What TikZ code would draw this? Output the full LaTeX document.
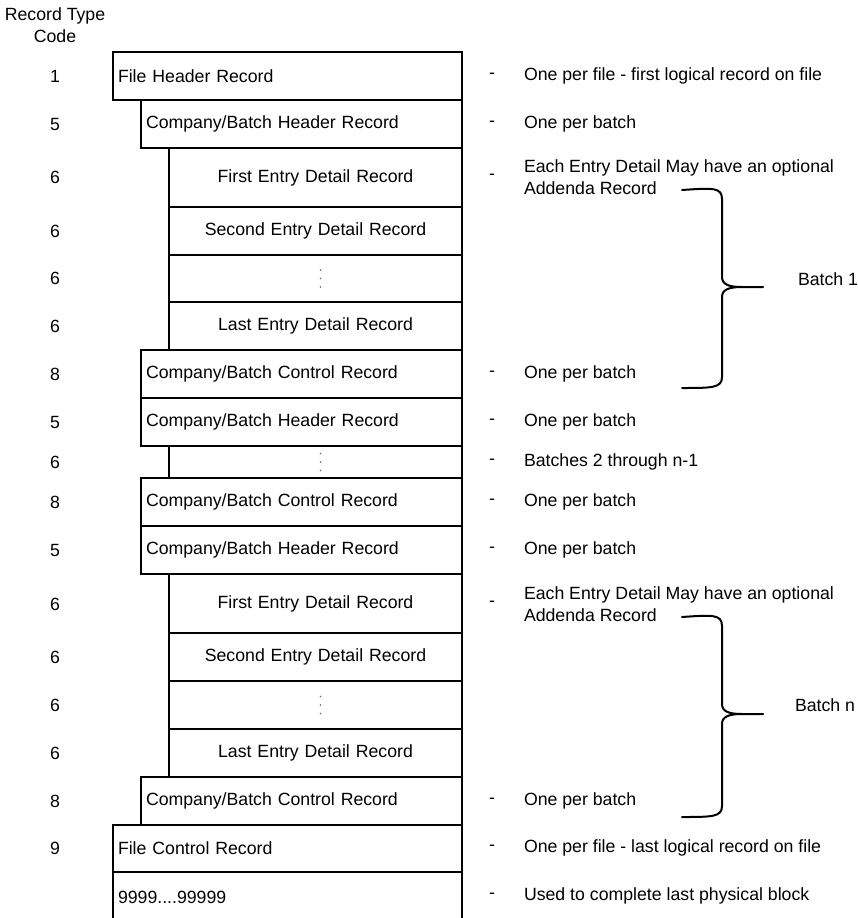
\documentclass[tikz,border=0pt]{standalone}
\usepackage{fontspec}
\setmainfont{Liberation Sans}
\begin{document}
\begin{tikzpicture}[x=1pt,y=-1pt,
  every node/.style={font=\fontsize{17.7}{22}\selectfont, inner sep=0pt, outer sep=0pt},
  box/.style={draw, line width=2pt, anchor=north west, inner xsep=5pt, inner ysep=0pt},
  lvA/.style={box, text width=339pt, align=left},
  lvB/.style={box, text width=311pt, align=left},
  lvC/.style={box, text width=283pt, align=center},
  codeno/.style={anchor=center},
  dsh/.style={anchor=center},
  note/.style={anchor=west, align=left},
  bracepath/.style={line width=2pt, line cap=round},
  vdot/.style={fill=black!60}]
\useasboundingbox (0,0) rectangle (858,918);

% header
\node[align=center] (hdr) at (55,25) {Record Type\\Code};

% record boxes
\node[lvA, minimum height=48pt] (fh) at (113,52) {File Header Record};
\node[lvB, minimum height=48pt] (bh1) at (141,100) {Company/Batch Header Record};
\node[lvC, minimum height=59pt] (e11) at (169,148) {First Entry Detail Record};
\node[lvC, minimum height=48pt] (e12) at (169,207) {Second Entry Detail Record};
\node[lvC, minimum height=47pt] (e13) at (169,255) {};
\node[lvC, minimum height=48pt] (e14) at (169,302) {Last Entry Detail Record};
\node[lvB, minimum height=48pt] (bc1) at (141,350) {Company/Batch Control Record};
\node[lvB, minimum height=48pt] (bh2) at (141,398) {Company/Batch Header Record};
\node[lvC, minimum height=32pt] (e2) at (169,446) {};
\node[lvB, minimum height=48pt] (bc2) at (141,478) {Company/Batch Control Record};
\node[lvB, minimum height=48pt] (bh3) at (141,526) {Company/Batch Header Record};
\node[lvC, minimum height=59pt] (e31) at (169,574) {First Entry Detail Record};
\node[lvC, minimum height=48pt] (e32) at (169,633) {Second Entry Detail Record};
\node[lvC, minimum height=48pt] (e33) at (169,681) {};
\node[lvC, minimum height=48pt] (e34) at (169,729) {Last Entry Detail Record};
\node[lvB, minimum height=48pt] (bc3) at (141,777) {Company/Batch Control Record};
\node[lvA, minimum height=47pt] (fc) at (113,825) {File Control Record};
\node[lvA, minimum height=50pt] (pad) at (113,872) {9999....99999};

% vertical dots
\foreach \n/\dx in {e13/5, e2/5, e33/5} {
  \foreach \dy in {-8.5,0,8.5}
    \fill[vdot] ([xshift=\dx pt, yshift=\dy pt]\n.center) circle (0.9pt);
}

% record type codes
\foreach \nm/\yy/\cc in {c1/76/1, c2/124/5, c3/177/6, c4/231/6, c5/278/6, c6/326/6,
  c7/374/8, c8/422/5, c9/462/6, c10/502/8, c11/550/5, c12/604/6, c13/657/6,
  c14/705/6, c15/753/6, c16/801/8, c17/848/9}
  \node[codeno] (\nm) at (55,\yy) {\cc};

% descriptions
\foreach \nm/\yy/\tx in {
  d1/76/{One per file - first logical record on file},
  d2/124/{One per batch},
  d4/374/{One per batch},
  d5/422/{One per batch},
  d6/462/{Batches 2 through n-1},
  d7/502/{One per batch},
  d8/550/{One per batch},
  d10/801/{One per batch},
  d11/848/{One per file - last logical record on file},
  d12/896/{Used to complete last physical block}} {
  \node[dsh] (\nm m) at (492,\yy) {-};
  \node[note] (\nm) at (524,\yy) {\tx};
}
\node[dsh] (d3m) at (492,177) {-};
\node[note] (d3) at (524,177) {Each Entry Detail May have an optional\\Addenda Record};
\node[dsh] (d9m) at (492,604) {-};
\node[note] (d9) at (524,604) {Each Entry Detail May have an optional\\Addenda Record};

% braces
\draw[bracepath] (682,190) .. controls (712,188) and (722,187) .. (722,199) -- (722,277)
  .. controls (722,284) and (728,287) .. (742,287) -- (763,287);
\draw[bracepath] (742,287) .. controls (728,287) and (722,290) .. (722,297) -- (722,377)
  .. controls (722,388) and (712,388) .. (682,388);
\node[anchor=west] (b1) at (798,279) {Batch 1};

\draw[bracepath] (682,617) .. controls (712,615) and (722,614) .. (722,626) -- (722,704)
  .. controls (722,711) and (728,714) .. (742,714) -- (763,714);
\draw[bracepath] (742,714) .. controls (728,714) and (722,717) .. (722,724) -- (722,806)
  .. controls (722,817) and (712,817) .. (682,817);
\node[anchor=west] (bn) at (795,705) {Batch n};
\end{tikzpicture}
\end{document}
